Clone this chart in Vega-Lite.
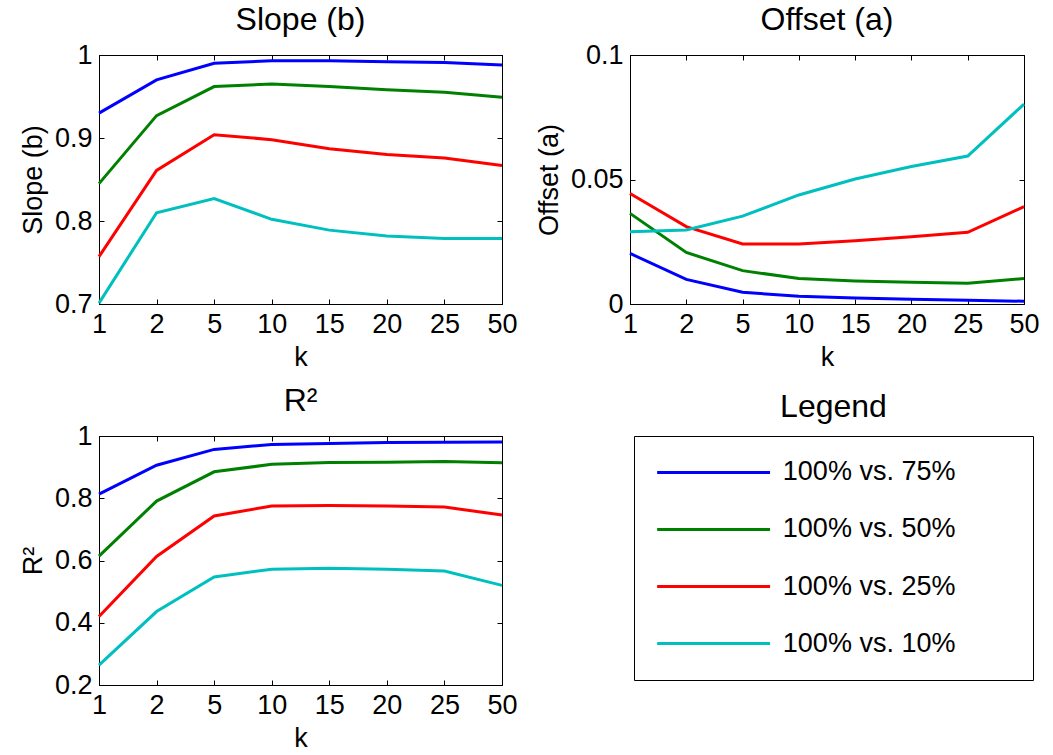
{
  "$schema": "https://vega.github.io/schema/vega-lite/v6.json",
  "background": "white",
  "padding": {"left": 18, "top": 3, "right": 5, "bottom": 3},
  "config": {
    "font": "Liberation Sans",
    "view": {"stroke": "black", "strokeWidth": 1},
    "axis": {
      "grid": false,
      "labelFont": "Liberation Sans",
      "titleFont": "Liberation Sans",
      "labelFontSize": 27,
      "titleFontSize": 27,
      "titleFontWeight": "normal",
      "labelColor": "black",
      "titleColor": "black",
      "domainColor": "black",
      "tickColor": "black",
      "tickSize": -5,
      "labelPadding": 12,
      "titlePadding": 7
    },
    "title": {"fontSize": 32, "fontWeight": "normal", "font": "Liberation Sans", "color": "black", "frame": "group", "anchor": "middle", "offset": 4}
  },
  "datasets": {
    "d": [
      {"k": 1, "series": "100% vs. 75%", "slope": 0.930, "offset": 0.0203, "r2": 0.813},
      {"k": 2, "series": "100% vs. 75%", "slope": 0.970, "offset": 0.0099, "r2": 0.906},
      {"k": 5, "series": "100% vs. 75%", "slope": 0.990, "offset": 0.0047, "r2": 0.957},
      {"k": 10, "series": "100% vs. 75%", "slope": 0.993, "offset": 0.0031, "r2": 0.973},
      {"k": 15, "series": "100% vs. 75%", "slope": 0.993, "offset": 0.0024, "r2": 0.976},
      {"k": 20, "series": "100% vs. 75%", "slope": 0.992, "offset": 0.0019, "r2": 0.979},
      {"k": 25, "series": "100% vs. 75%", "slope": 0.991, "offset": 0.0015, "r2": 0.980},
      {"k": 50, "series": "100% vs. 75%", "slope": 0.988, "offset": 0.0011, "r2": 0.981},
      {"k": 1, "series": "100% vs. 50%", "slope": 0.845, "offset": 0.0364, "r2": 0.614},
      {"k": 2, "series": "100% vs. 50%", "slope": 0.927, "offset": 0.0207, "r2": 0.791},
      {"k": 5, "series": "100% vs. 50%", "slope": 0.962, "offset": 0.0134, "r2": 0.885},
      {"k": 10, "series": "100% vs. 50%", "slope": 0.965, "offset": 0.0102, "r2": 0.909},
      {"k": 15, "series": "100% vs. 50%", "slope": 0.962, "offset": 0.0092, "r2": 0.915},
      {"k": 20, "series": "100% vs. 50%", "slope": 0.958, "offset": 0.0087, "r2": 0.916},
      {"k": 25, "series": "100% vs. 50%", "slope": 0.955, "offset": 0.0083, "r2": 0.918},
      {"k": 50, "series": "100% vs. 50%", "slope": 0.949, "offset": 0.0102, "r2": 0.914},
      {"k": 1, "series": "100% vs. 25%", "slope": 0.757, "offset": 0.0444, "r2": 0.420},
      {"k": 2, "series": "100% vs. 25%", "slope": 0.861, "offset": 0.0311, "r2": 0.613},
      {"k": 5, "series": "100% vs. 25%", "slope": 0.904, "offset": 0.0241, "r2": 0.743},
      {"k": 10, "series": "100% vs. 25%", "slope": 0.898, "offset": 0.0241, "r2": 0.775},
      {"k": 15, "series": "100% vs. 25%", "slope": 0.887, "offset": 0.0254, "r2": 0.777},
      {"k": 20, "series": "100% vs. 25%", "slope": 0.880, "offset": 0.0270, "r2": 0.775},
      {"k": 25, "series": "100% vs. 25%", "slope": 0.876, "offset": 0.0288, "r2": 0.772},
      {"k": 50, "series": "100% vs. 25%", "slope": 0.867, "offset": 0.0391, "r2": 0.746},
      {"k": 1, "series": "100% vs. 10%", "slope": 0.701, "offset": 0.0290, "r2": 0.264},
      {"k": 2, "series": "100% vs. 10%", "slope": 0.810, "offset": 0.0297, "r2": 0.436},
      {"k": 5, "series": "100% vs. 10%", "slope": 0.827, "offset": 0.0353, "r2": 0.547},
      {"k": 10, "series": "100% vs. 10%", "slope": 0.802, "offset": 0.0438, "r2": 0.572},
      {"k": 15, "series": "100% vs. 10%", "slope": 0.789, "offset": 0.0502, "r2": 0.575},
      {"k": 20, "series": "100% vs. 10%", "slope": 0.782, "offset": 0.0552, "r2": 0.572},
      {"k": 25, "series": "100% vs. 10%", "slope": 0.779, "offset": 0.0594, "r2": 0.566},
      {"k": 50, "series": "100% vs. 10%", "slope": 0.779, "offset": 0.0803, "r2": 0.520}
    ],
    "s": [
      {"series": "100% vs. 75%"},
      {"series": "100% vs. 50%"},
      {"series": "100% vs. 25%"},
      {"series": "100% vs. 10%"}
    ]
  },
  "vconcat": [
    {
      "spacing": 16,
      "hconcat": [
        {
          "title": "Slope (b)",
          "width": 403, "height": 249,
          "data": {"name": "d"},
          "layer": [
            {
              "mark": {"type": "line", "strokeWidth": 3},
              "encoding": {
                "x": {"field": "k", "type": "ordinal", "scale": {"type": "point", "padding": 0}, "axis": {"title": "k", "labelAngle": 0}},
                "y": {"field": "slope", "type": "quantitative", "scale": {"domain": [0.7, 1]}, "axis": {"title": "Slope (b)", "values": [0.7, 0.8, 0.9, 1], "format": "~g"}},
                "color": {"field": "series", "type": "nominal", "scale": {"domain": ["100% vs. 75%", "100% vs. 50%", "100% vs. 25%", "100% vs. 10%"], "range": ["#0000ff", "#008000", "#ff0000", "#00bfbf"]}, "legend": null}
              }
            },
            {
              "mark": {"type": "line", "opacity": 0},
              "encoding": {
                "x": {"field": "k", "type": "ordinal", "axis": {"orient": "top", "labels": false, "title": null}},
                "y": {"field": "slope", "type": "quantitative", "axis": {"orient": "right", "labels": false, "title": null, "values": [0.7, 0.8, 0.9, 1]}},
                "detail": {"field": "series"}
              }
            }
          ],
          "resolve": {"axis": {"x": "independent", "y": "independent"}}
        },
        {
          "title": "Offset (a)",
          "width": 394, "height": 249,
          "data": {"name": "d"},
          "layer": [
            {
              "mark": {"type": "line", "strokeWidth": 3},
              "encoding": {
                "x": {"field": "k", "type": "ordinal", "scale": {"type": "point", "padding": 0}, "axis": {"title": "k", "labelAngle": 0}},
                "y": {"field": "offset", "type": "quantitative", "scale": {"domain": [0, 0.1]}, "axis": {"title": "Offset (a)", "values": [0, 0.05, 0.1], "format": "~g"}},
                "color": {"field": "series", "type": "nominal", "legend": null}
              }
            },
            {
              "mark": {"type": "line", "opacity": 0},
              "encoding": {
                "x": {"field": "k", "type": "ordinal", "axis": {"orient": "top", "labels": false, "title": null}},
                "y": {"field": "offset", "type": "quantitative", "axis": {"orient": "right", "labels": false, "title": null, "values": [0, 0.05, 0.1]}},
                "detail": {"field": "series"}
              }
            }
          ],
          "resolve": {"axis": {"x": "independent", "y": "independent"}}
        }
      ]
    },
    {
      "spacing": 115,
      "hconcat": [
        {
          "title": "R²",
          "width": 403, "height": 249,
          "data": {"name": "d"},
          "layer": [
            {
              "mark": {"type": "line", "strokeWidth": 3},
              "encoding": {
                "x": {"field": "k", "type": "ordinal", "scale": {"type": "point", "padding": 0}, "axis": {"title": "k", "labelAngle": 0}},
                "y": {"field": "r2", "type": "quantitative", "scale": {"domain": [0.2, 1]}, "axis": {"title": "R²", "values": [0.2, 0.4, 0.6, 0.8, 1], "format": "~g"}},
                "color": {"field": "series", "type": "nominal", "legend": null}
              }
            },
            {
              "mark": {"type": "line", "opacity": 0},
              "encoding": {
                "x": {"field": "k", "type": "ordinal", "axis": {"orient": "top", "labels": false, "title": null}},
                "y": {"field": "r2", "type": "quantitative", "axis": {"orient": "right", "labels": false, "title": null, "values": [0.2, 0.4, 0.6, 0.8, 1]}},
                "detail": {"field": "series"}
              }
            }
          ],
          "resolve": {"axis": {"x": "independent", "y": "independent"}}
        },
        {
          "title": {"text": "Legend", "offset": 12},
          "width": 399, "height": 244,
          "data": {"name": "s"},
          "layer": [
            {
              "mark": {"type": "rule", "strokeWidth": 3},
              "encoding": {
                "x": {"datum": 0.058, "type": "quantitative", "scale": {"domain": [0, 1]}, "axis": null},
                "x2": {"datum": 0.341},
                "y": {"field": "series", "type": "nominal", "sort": null, "scale": {"type": "point", "padding": 0.64}, "axis": null},
                "color": {"field": "series", "type": "nominal", "legend": null}
              }
            },
            {
              "mark": {"type": "text", "align": "left", "baseline": "middle", "fontSize": 27, "font": "Liberation Sans", "color": "black"},
              "encoding": {
                "x": {"datum": 0.373, "type": "quantitative"},
                "y": {"field": "series", "type": "nominal", "sort": null},
                "text": {"field": "series"}
              }
            }
          ]
        }
      ]
    }
  ],
  "spacing": 13
}
